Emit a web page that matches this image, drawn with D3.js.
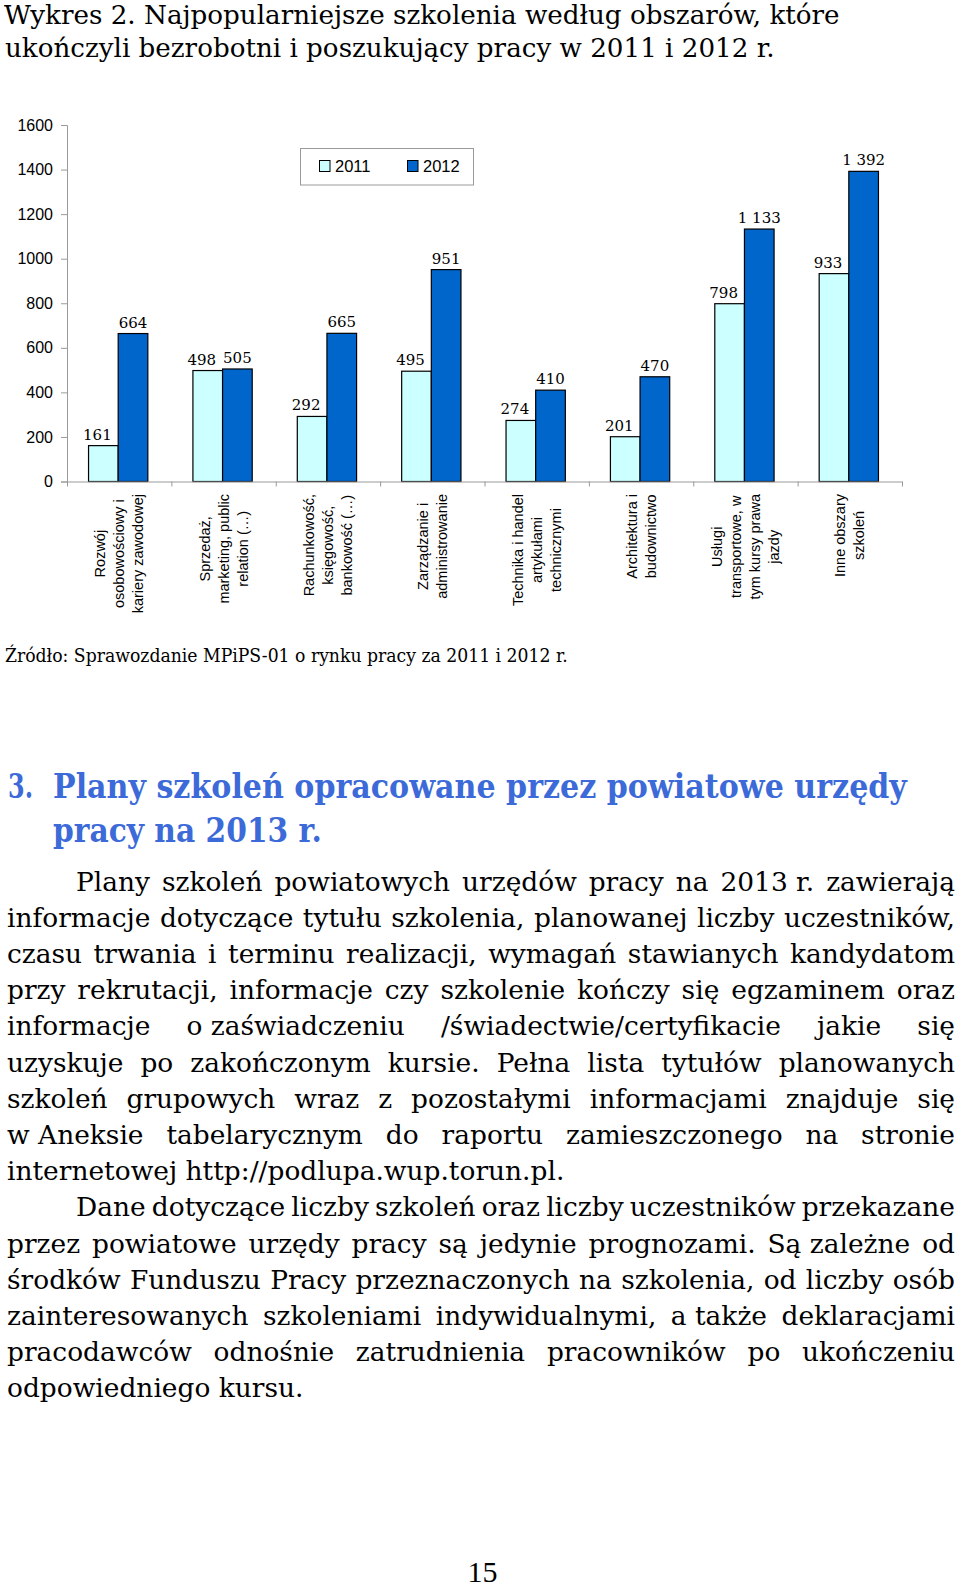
<!DOCTYPE html>
<html><head><meta charset="utf-8">
<script src="https://cdn.jsdelivr.net/npm/d3@7"></script>
<style>html,body{margin:0;padding:0;background:#fff}svg{display:block}</style>
</head><body>
<svg id="page" width="960" height="1587"></svg>
<script>
// ---------- DATA ----------
const categoryLines = [
  ["Rozwój", "osobowościowy i", "kariery zawodowej"],
  ["Sprzedaż,", "marketing, public", "relation (…)"],
  ["Rachunkowość,", "księgowość,", "bankowość (…)"],
  ["Zarządzanie i", "administrowanie"],
  ["Technika i handel", "artykułami", "technicznymi"],
  ["Architektura i", "budownictwo"],
  ["Usługi", "transportowe, w", "tym kursy prawa", "jazdy"],
  ["Inne obszary", "szkoleń"]
];
const categories = categoryLines.map(l => l.join(" "));
const seriesNames = ["2011", "2012"];
const values2011 = [161, 498, 292, 495, 274, 201, 798, 933];
const values2012 = [664, 505, 665, 951, 410, 470, 1133, 1392];
const yTickValues = [0, 200, 400, 600, 800, 1000, 1200, 1400, 1600];

const titleLines = [
  "Wykres 2. Najpopularniejsze szkolenia według obszarów, które",
  "ukończyli bezrobotni i poszukujący pracy w 2011 i 2012 r."
];
const sourceText = "Źródło: Sprawozdanie MPiPS-01 o rynku pracy za 2011 i 2012 r.";
const headingNumber = "3.";
const headingLines = ["Plany szkoleń opracowane przez powiatowe urzędy", "pracy na 2013 r."];
const paragraphLines = [
  {text: "Plany szkoleń powiatowych urzędów pracy na 2013\u00a0r. zawierają", indent: true, justify: true},
  {text: "informacje dotyczące tytułu szkolenia, planowanej liczby uczestników,", indent: false, justify: true},
  {text: "czasu trwania i terminu realizacji, wymagań stawianych kandydatom", indent: false, justify: true},
  {text: "przy rekrutacji, informacje czy szkolenie kończy się egzaminem oraz", indent: false, justify: true},
  {text: "informacje o\u00a0zaświadczeniu /świadectwie/certyfikacie jakie się", indent: false, justify: true},
  {text: "uzyskuje po zakończonym kursie. Pełna lista tytułów planowanych", indent: false, justify: true},
  {text: "szkoleń grupowych wraz z pozostałymi informacjami znajduje się", indent: false, justify: true},
  {text: "w\u00a0Aneksie tabelarycznym do raportu zamieszczonego na stronie", indent: false, justify: true},
  {text: "internetowej http://podlupa.wup.torun.pl.", indent: false, justify: false},
  {text: "Dane dotyczące liczby szkoleń oraz liczby uczestników przekazane", indent: true, justify: true},
  {text: "przez powiatowe urzędy pracy są jedynie prognozami. Są\u00a0zależne od", indent: false, justify: true},
  {text: "środków Funduszu Pracy przeznaczonych na szkolenia, od liczby osób", indent: false, justify: true},
  {text: "zainteresowanych szkoleniami indywidualnymi, a\u00a0także deklaracjami", indent: false, justify: true},
  {text: "pracodawców odnośnie zatrudnienia pracowników po ukończeniu", indent: false, justify: true},
  {text: "odpowiedniego kursu.", indent: false, justify: false}
];
const pageNumber = "15";

// ---------- SETUP ----------
const svg = d3.select("#page");
svg.append("rect").attr("width", 960).attr("height", 1587).attr("fill", "#fff");
const SANS = "'Liberation Sans', Arial, sans-serif";
const SERIF = "'DejaVu Serif', serif";

// Fit a single text line to a target width by horizontal scaling of its group
function fittedLine(parent, str, x, yBase, width) {
  const g = parent.append("g");
  const t = g.append("text").attr("x", 0).attr("y", 0).text(str);
  const natural = t.node().getComputedTextLength();
  const k = width / natural;
  g.attr("transform", `translate(${x},${yBase}) scale(${k},1)`);
  return g;
}

// ---------- TITLE ----------
const titleG = svg.append("g").attr("font-family", SERIF).attr("font-size", 26).attr("fill", "#000");
const titleSpec = [{x: 4, y: 24, w: 836}, {x: 5, y: 57, w: 770}];
titleLines.forEach((t, i) => fittedLine(titleG, t, titleSpec[i].x, titleSpec[i].y, titleSpec[i].w));

// ---------- CHART ----------
const plot = {left: 67, right: 902, top: 125, bottom: 481.5};
const y = d3.scaleLinear().domain([0, 1600]).range([plot.bottom, plot.top]);
const x0 = d3.scaleBand().domain(categories).range([plot.left, plot.right]).padding(0);
const groupW = x0.bandwidth() * 0.568;
const x1 = d3.scaleBand().domain(seriesNames).range([0, groupW]).padding(0);
const color = d3.scaleOrdinal().domain(seriesNames).range(["#CCFFFF", "#0066CC"]);
const locale = d3.formatLocale({decimal: ",", thousands: " ", grouping: [3], currency: ["", " zł"]});
const fmt = locale.format(",d");

const rows = categories.map((c, i) => ({
  cat: c,
  vals: [{s: "2011", v: values2011[i]}, {s: "2012", v: values2012[i]}]
}));

const groups = svg.append("g").selectAll("g").data(rows).join("g")
  .attr("transform", d => `translate(${x0(d.cat) + (x0.bandwidth() - groupW) / 2 - 1},0)`);

groups.selectAll("rect").data(d => d.vals).join("rect")
  .attr("x", d => x1(d.s))
  .attr("y", d => y(d.v))
  .attr("width", x1.bandwidth())
  .attr("height", d => y(0) - y(d.v))
  .attr("fill", d => color(d.s))
  .attr("stroke", "#000")
  .attr("stroke-width", 1.2);

groups.selectAll("text.val").data(d => d.vals).join("text")
  .attr("class", "val")
  .attr("x", d => x1(d.s) + x1.bandwidth() / 2 + (d.s === "2011" ? -6 : 0))
  .attr("y", d => y(d.v) - 6)
  .attr("text-anchor", "middle")
  .attr("font-family", SERIF)
  .attr("font-size", 15)
  .attr("fill", "#000")
  .text(d => fmt(d.v));

// Y axis
const yAxis = d3.axisLeft(y).tickValues(yTickValues).tickSize(6).tickSizeOuter(6).tickPadding(8).tickFormat(d3.format("d"));
const gy = svg.append("g").attr("transform", `translate(${plot.left},0)`).call(yAxis);
gy.attr("font-family", SANS).attr("font-size", 16);
gy.select(".domain").attr("stroke", "#9a9a9a");
gy.selectAll(".tick line").attr("stroke", "#9a9a9a");
gy.selectAll(".tick text").attr("fill", "#000");

// X axis (category boundaries)
const xb = d3.scaleLinear().domain([0, categories.length]).range([plot.left, plot.right]);
const xAxis = d3.axisBottom(xb).tickValues(d3.range(0, categories.length + 1)).tickSize(5).tickSizeOuter(0).tickFormat("");
const gx = svg.append("g").attr("transform", `translate(0,${plot.bottom})`).call(xAxis);
gx.select(".domain").attr("stroke", "#9a9a9a");
gx.selectAll(".tick line").attr("stroke", "#9a9a9a");

// Category labels (rotated)
categoryLines.forEach((lines, i) => {
  const cx = x0(categories[i]) + x0.bandwidth() / 2;
  const t = svg.append("text")
    .attr("transform", `translate(${cx},494) rotate(-90)`)
    .attr("text-anchor", "middle")
    .attr("font-family", SANS).attr("font-size", 14.5).attr("fill", "#000");
  const n = lines.length;
  const spans = lines.map((l, j) => t.append("tspan").attr("x", 0)
    .attr("y", (j - (n - 1) / 2) * 19).attr("dy", "0.35em").text(l));
  const maxLen = d3.max(spans, s => s.node().getComputedTextLength());
  spans.forEach(s => s.attr("x", -maxLen / 2));
});

// Legend
const lg = svg.append("g");
lg.append("rect").attr("x", 300.5).attr("y", 148.5).attr("width", 173).attr("height", 36.5)
  .attr("fill", "#fff").attr("stroke", "#9a9a9a");
const legendX = [319, 407];
seriesNames.forEach((s, i) => {
  lg.append("rect").attr("x", legendX[i] + 0.5).attr("y", 160.5).attr("width", 10.5).attr("height", 11)
    .attr("fill", color(s)).attr("stroke", "#000").attr("stroke-width", 1);
  lg.append("text").attr("x", legendX[i] + 16).attr("y", 172)
    .attr("font-family", SANS).attr("font-size", 16.5).attr("fill", "#000").text(s);
});

// ---------- SOURCE ----------
const srcG = svg.append("g").attr("font-family", SERIF).attr("font-size", 19).attr("fill", "#000");
fittedLine(srcG, sourceText, 5, 662, 563.5);

// ---------- HEADING ----------
const hg = svg.append("g").attr("font-family", SERIF).attr("font-weight", "bold").attr("font-size", 33).attr("fill", "#3c6ad8");
fittedLine(hg, headingNumber, 8, 798, 25);
const headSpec = [{y: 798, w: 854}, {y: 842, w: 269}];
headingLines.forEach((t, i) => fittedLine(hg, t, 53, headSpec[i].y, headSpec[i].w));

// ---------- PARAGRAPH ----------
const para = svg.append("g").attr("font-family", SERIF).attr("font-size", 26.5).attr("fill", "#000");
function measure(str) {
  const t = para.append("text").attr("xml:space", "preserve").text(str);
  const w = t.node().getComputedTextLength();
  t.remove();
  return w;
}
const leftM = 7, rightM = 955, indentX = 76;
const spaceW = measure("a a") - measure("aa");
const refNatural = measure(paragraphLines[8].text) + measure(paragraphLines[14].text);
const k = (561.5 + 292.5) / refNatural;
paragraphLines.forEach((ln, i) => {
  const xStart = ln.indent ? indentX : leftM;
  const baseline = 890.5 + i * 36.2;
  const g = para.append("g").attr("transform", `translate(${xStart},${baseline}) scale(${k},1)`);
  const words = ln.text.split(/ +/);
  const t = g.append("text");
  const spans = words.map(w => t.append("tspan").attr("y", 0).text(w));
  const widths = spans.map(s => s.node().getComputedTextLength());
  const sum = d3.sum(widths);
  let gap = spaceW;
  if (ln.justify && words.length > 1) {
    gap = ((rightM - xStart) / k - sum) / (words.length - 1);
  }
  let cx = 0;
  spans.forEach((s, j) => { s.attr("x", cx); cx += widths[j] + gap; });
});

// ---------- PAGE NUMBER ----------
svg.append("text").attr("x", 482.5).attr("y", 1582).attr("text-anchor", "middle")
  .attr("font-family", "'Liberation Serif', 'Times New Roman', serif").attr("font-size", 30)
  .attr("fill", "#000").text(pageNumber);
</script>
</body></html>
